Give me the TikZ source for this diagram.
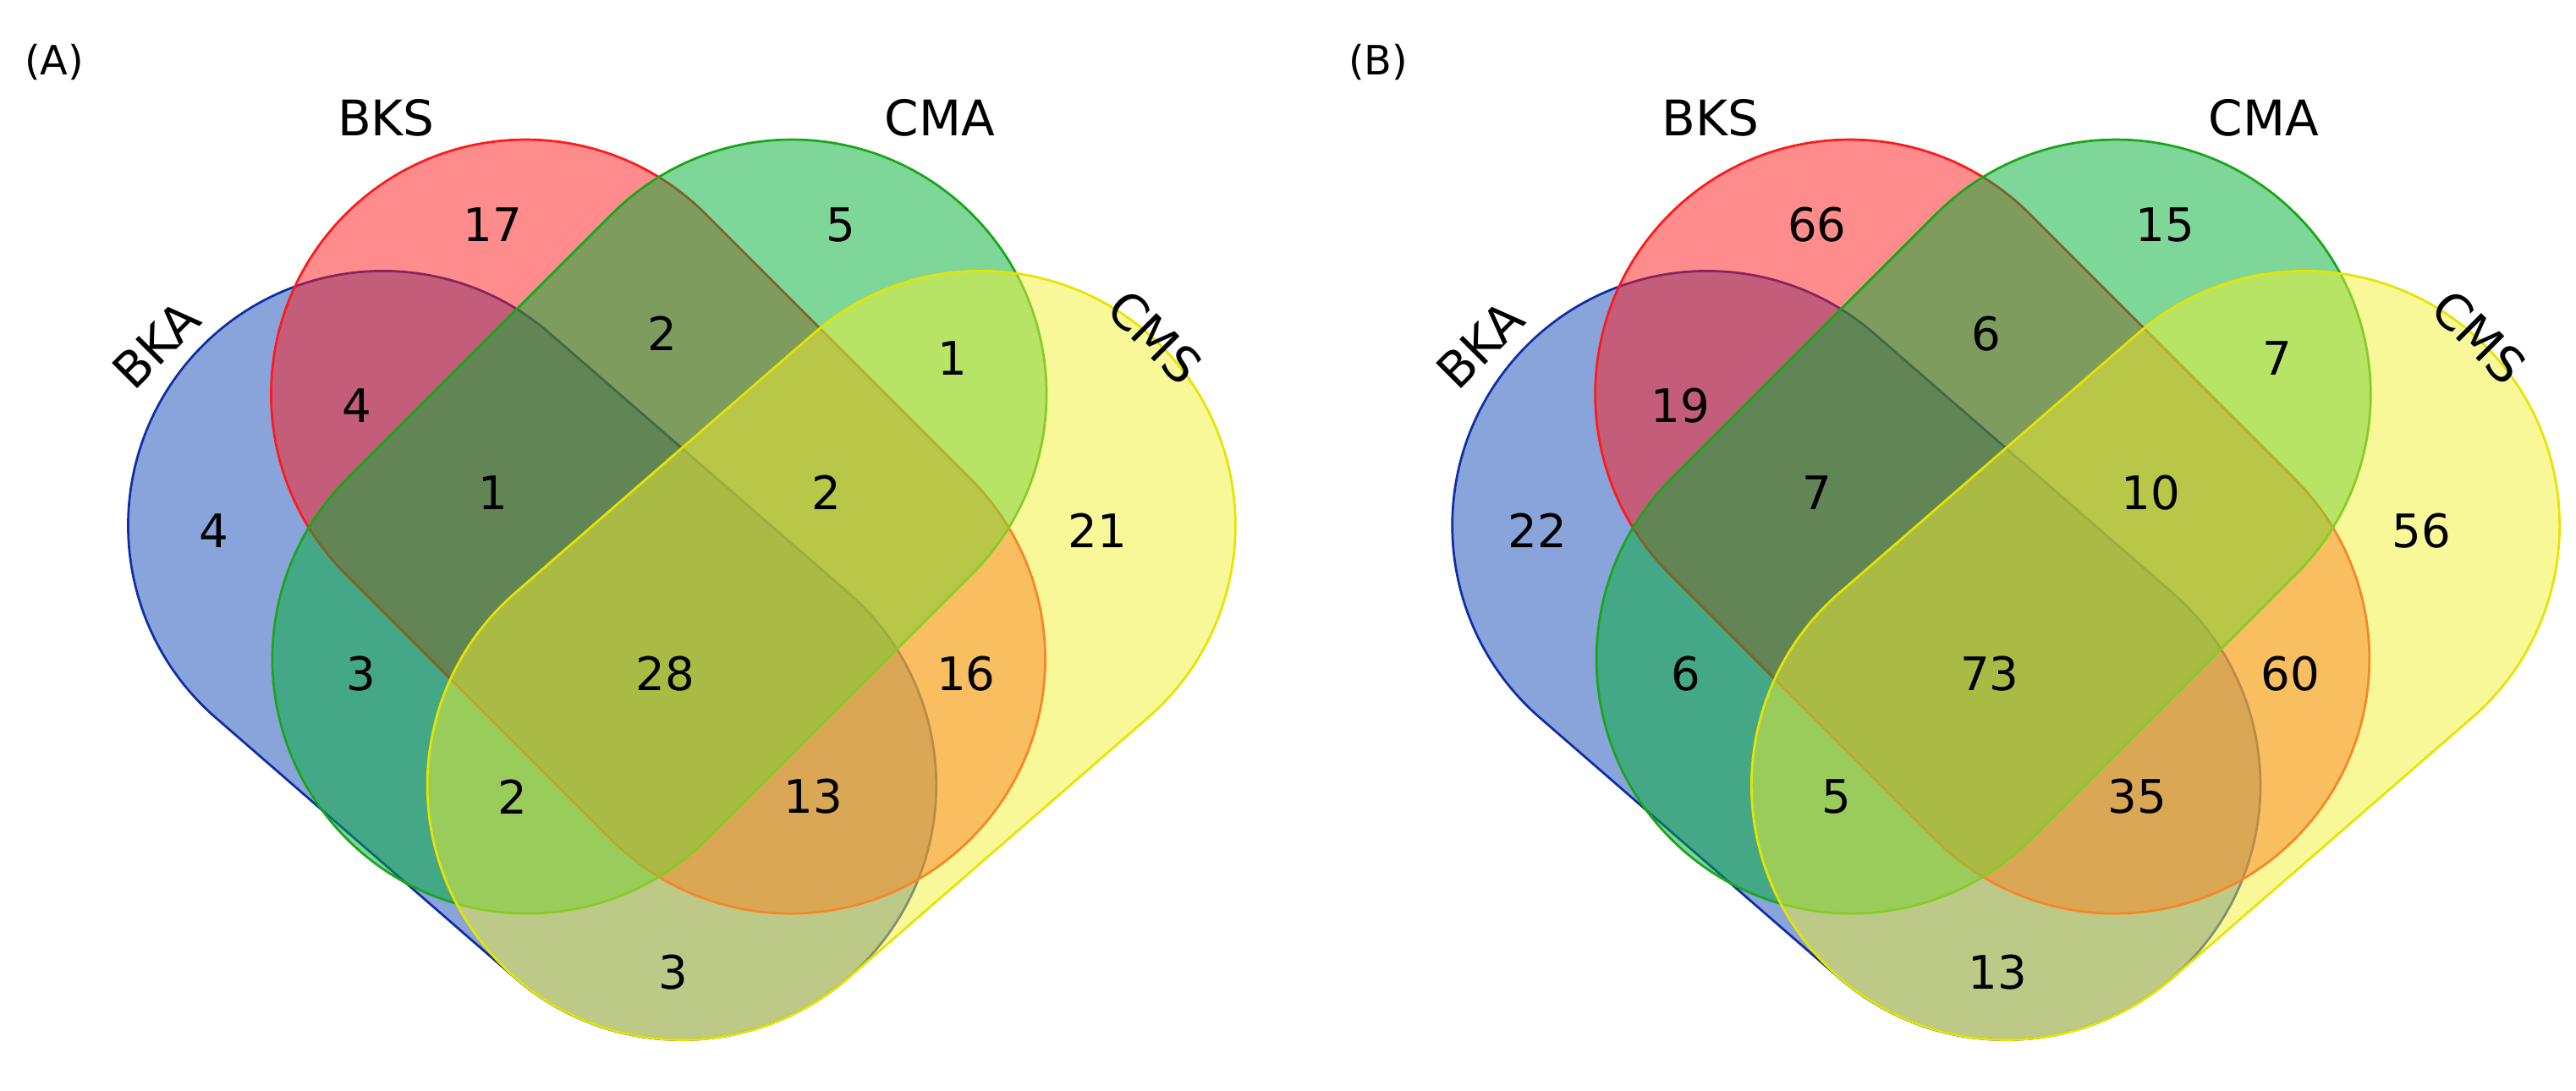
\documentclass[tikz,border=0pt]{standalone}
\usepackage{fontspec}
\setmainfont{DejaVu Sans}
\usetikzlibrary{positioning}

\definecolor{bka}{rgb}{0.08,0.28,0.72}
\definecolor{bkaline}{rgb}{0.06,0.18,0.65}
\definecolor{bks}{rgb}{1,0.1,0.1}
\definecolor{cma}{rgb}{0,0.68,0.2}
\definecolor{cmaline}{rgb}{0.1,0.65,0.1}
\definecolor{cms}{rgb}{0.95,0.95,0.2}
\definecolor{cmsline}{rgb}{0.9,0.9,0}

\tikzset{
  venn set/.style={line width=0.8pt, fill opacity=0.5},
  count/.style={font=\fontsize{16}{19}\selectfont},
  set name/.style={font=\fontsize{17}{20}\selectfont},
  panel/.style={font=\fontsize{14}{17}\selectfont}
}

\begin{document}
\begin{tikzpicture}[x=0.02cm, y=0.02cm]
  \useasboundingbox (0,0) rectangle (1568,664);

  \foreach \p/\dx in {A/0, B/806} {
    \node [panel] (panel-\p) at (\dx+33,626) {(\p)};
    % four stadium shaped sets
    \foreach \s/\px/\py/\rot/\len/\fc/\lc in {bka/233/344/-41/241/bka/bkaline,
                                              bks/320/424/-45/228/bks/bks,
                                              cma/482/424/-135/228/cma/cmaline,
                                              cms/597/344/-139/241/cms/cmsline}
      \draw [venn set, fill=\fc, draw=\lc, shift={(\dx+\px,\py)}, rotate=\rot]
        (0,155) -- (\len,155) arc (90:-90:155) -- (0,-155) arc (270:90:155) -- cycle;
    \node [set name, rotate=45] (bka-\p) at (\dx+95,454) {BKA};
    \node [set name] (bks-\p) at (\dx+235,592) {BKS};
    \node [set name] (cma-\p) at (\dx+572,592) {CMA};
    \node [set name, rotate=-45] (cms-\p) at (\dx+703,459) {CMS};
  }

  \foreach \x/\y/\a/\b [count=\i] in {300/137/17/66, 512/137/5/15, 217/247/4/19,
                                      403/203/2/6, 580/218/1/7, 130/323/4/22,
                                      300/300/1/7, 503/300/2/10, 668/323/21/56,
                                      220/410/3/6, 405/410/28/73, 588/410/16/60,
                                      312/485/2/5, 495/485/13/35, 410/592/3/13} {
    \node [count] (na-\i) at (\x,664-\y) {\a};
    \node [count] (nb-\i) at (\x+806,664-\y) {\b};
  }
\end{tikzpicture}
\end{document}
